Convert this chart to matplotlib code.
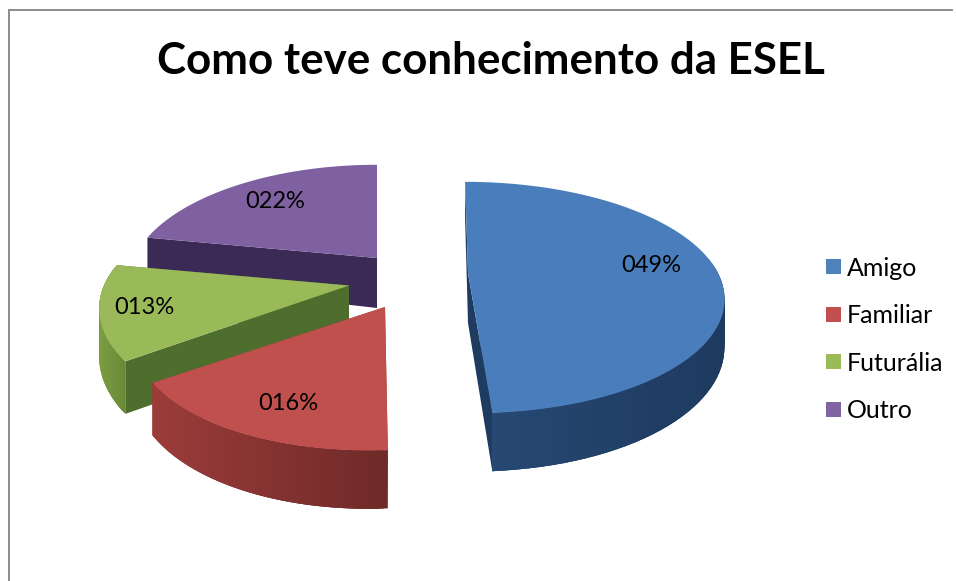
"""
Exploded 3D style pie chart, how people heard about ESEL.
"""

import numpy as np
import matplotlib
matplotlib.use("Agg")
import matplotlib.pyplot as plt
from matplotlib.patches import Patch
from matplotlib.colors import to_rgb

plt.rcParams["font.family"] = ["Lato", "DejaVu Sans"]

TITLE = "Como teve conhecimento da ESEL"
categories = ["Amigo", "Familiar", "Futurália", "Outro"]
values = [49, 16, 13, 22]
value_labels = ["049%", "016%", "013%", "022%"]

top_colors = ["#4a7dbb", "#c0504d", "#9aba59", "#7f60a0"]
cut_colors = ["#1f3b60", "#8a3533", "#4d6e2c", "#3a2a55"]
side_left = ["#274a76", "#9c3c3a", "#7d9c42", "#5a4475"]
side_right = ["#1e3a5f", "#6e2a28", "#6a8a38", "#4a3860"]
legend_colors = ["#4f81bd", "#c0504d", "#9bbb59", "#8064a2"]

# slice apex in the picture, its size and lean, and where its label sits
apex_x = [468, 385, 349, 377]
apex_y = [273, 307, 285.5, 258]
radius_x = [250, 242, 245, 243]
radius_y = [110.5, 113, 113, 113]
lean = [3.5, -13, 4, 0]
label_x = [651, 288, 144, 275]
label_y = [266, 404, 307, 202]

PERSP = 0.212
DEPTH = 46


def project(i, theta, r=1.0, z=0.0):
    """Flat disc point to picture coords, theta clockwise from the top."""
    u = r * np.sin(theta)
    v = -r * np.cos(theta)
    s = 1 / (1 - PERSP * v)
    x = apex_x[i] + radius_x[i] * u * s + lean[i] * v * s
    y = apex_y[i] + radius_y[i] * v * s + z * DEPTH * s
    return x, y


fig = plt.figure(figsize=(9.56, 5.81), dpi=100)
ax = fig.add_axes([0, 0, 1, 1])
ax.set_xlim(0, 956)
ax.set_ylim(581, 0)
ax.axis("off")

# only top and left of the frame show
ax.plot([9.5, 9.5], [581, 9.5], color="#8c8c8c", lw=1.4)
ax.plot([9.5, 952], [9.5, 9.5], color="#8c8c8c", lw=1.4)

edges = np.cumsum([0] + values) / sum(values) * 2 * np.pi

# back slices first, blue goes last
for i in [3, 2, 1, 0]:
    t0, t1 = edges[i], edges[i + 1]
    cx, cy = apex_x[i], apex_y[i]
    th = np.linspace(t0, t1, 80)

    # cut faces
    for edge in (t0, t1):
        ex, ey = project(i, edge)
        bx, by = project(i, edge, z=1)
        ax.fill([cx, ex, bx, cx], [cy, ey, by, cy + DEPTH + 4],
                color=cut_colors[i], lw=0)
    if i == 0:
        # blue shows its cut face as one straight sliver on the left
        ex, ey = project(i, t0)
        fx, fy = project(i, t1)
        bx, by = project(i, t1, z=1)
        ax.fill([ex, fx, bx], [ey, fy, by], color=cut_colors[i], lw=0)

    # outer wall, shaded strip by strip, strips overlap to hide seams
    c0, c1 = np.array(to_rgb(side_left[i])), np.array(to_rgb(side_right[i]))
    xt, yt = project(i, th)
    xb, yb = project(i, th, z=1)
    for k in range(len(th) - 1):
        if np.cos(th[k]) > 0.15:
            continue
        f = (xt[k] - xt.min()) / max(xt.max() - xt.min(), 1)
        n = min(k + 3, len(th) - 1)
        ax.fill([xt[k], xt[n], xb[n], xb[k]],
                [yt[k], yt[n], yb[n], yb[k]],
                color=c0 + (c1 - c0) * f, lw=0)

    # top face
    ax.fill(np.r_[cx, xt], np.r_[cy, yt], color=top_colors[i], lw=0)

for x, y, s in zip(label_x, label_y, value_labels):
    ax.text(x, y, s, fontsize=17, color="black", ha="center", va="center")

ax.text(490.5, 61, TITLE, fontsize=31.6, fontweight="bold", color="black",
        ha="center", va="center")

handles = [Patch(facecolor=c, edgecolor="none", label=n)
           for c, n in zip(legend_colors, categories)]
ax.legend(handles=handles, loc="center left", bbox_to_anchor=(803 / 956, 1 - 339.5 / 581),
          frameon=False, fontsize=18, handlelength=0.6, handleheight=0.55,
          handletextpad=0.25, labelspacing=0.98)

fig.savefig("out.png", dpi=100)
